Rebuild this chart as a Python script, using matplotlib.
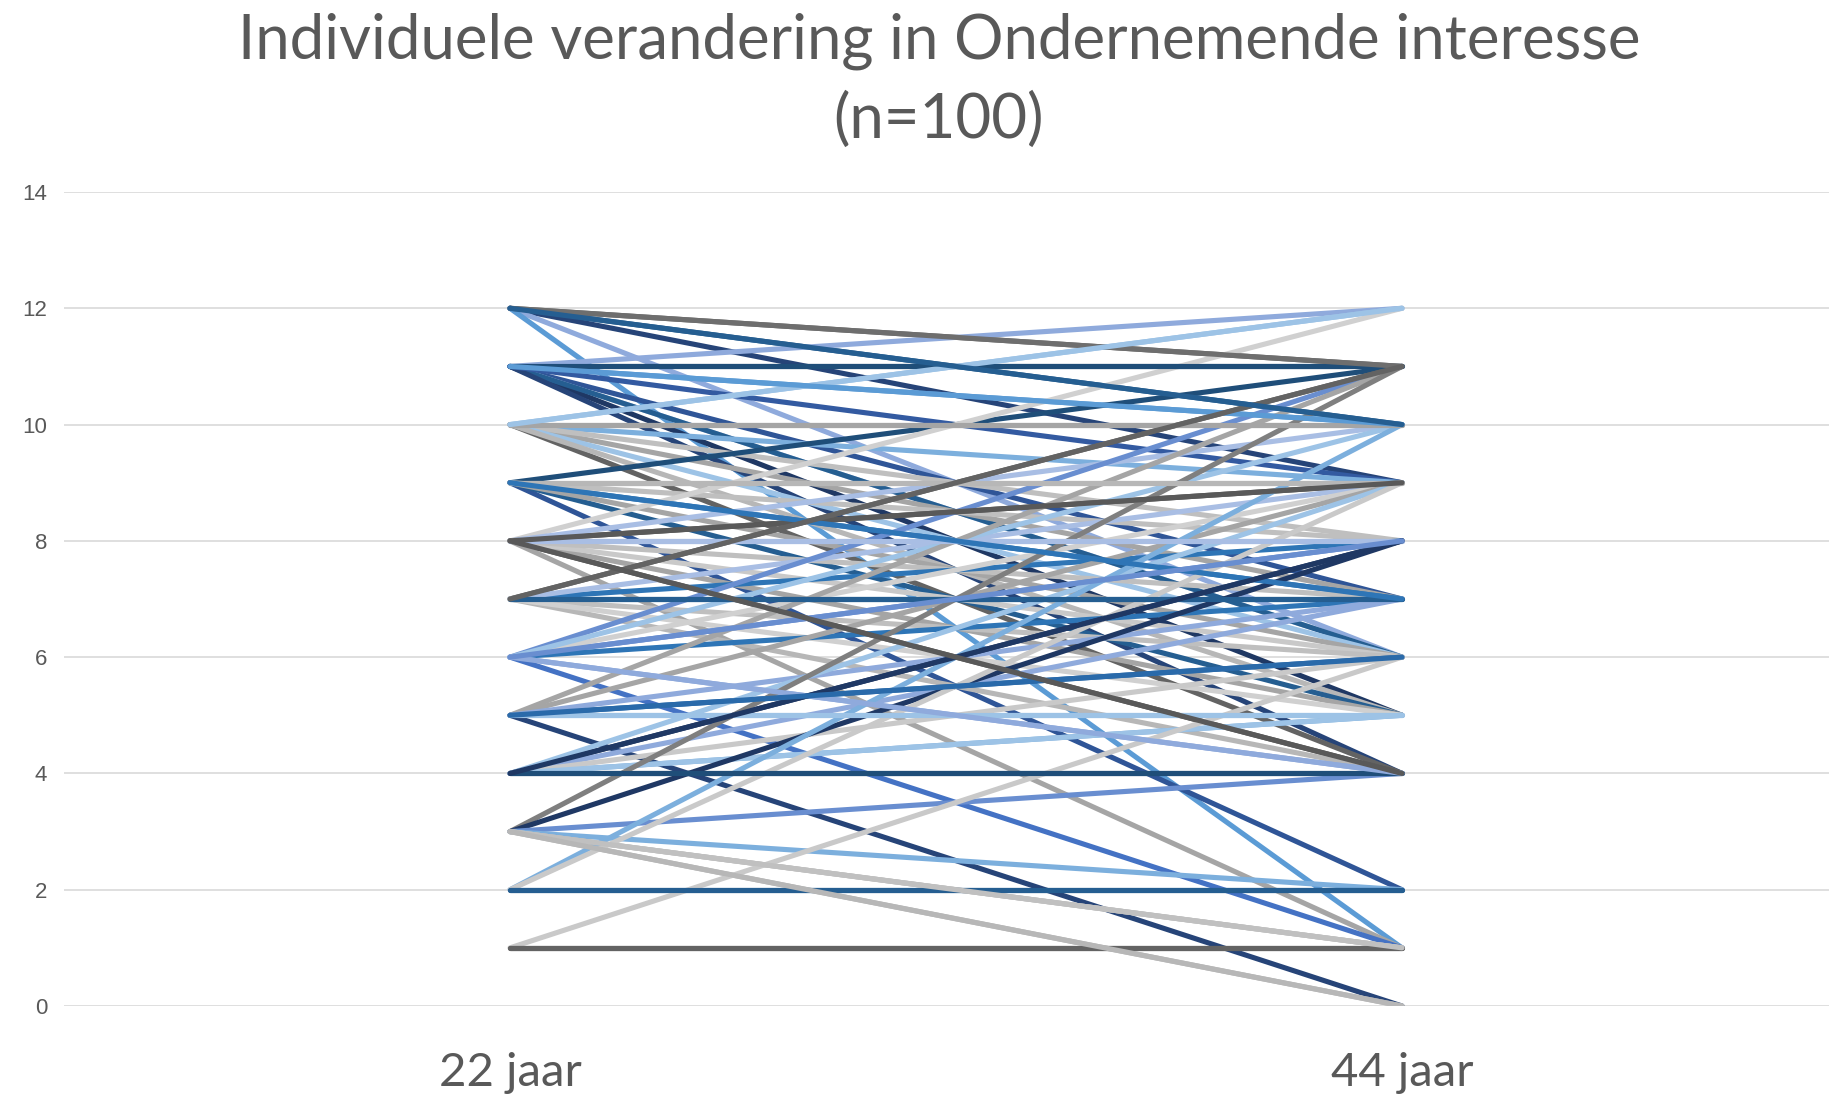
import numpy as np, matplotlib
matplotlib.use("Agg"); import matplotlib.pyplot as plt

# score at 22 and at 44 for each of the 100 persons
start = [12,12,12,12,12, 11,11,11,11,11,11,11,11,11, 10,10,10,10,10,10,10,10,
         9,9,9,9,9,9,9, 8,8,8,8,8,8,8,8,8, 7,7,7,7,7,7,7, 6,6,6,6,6,6,6,
         5,5,5,5,5,5, 4,4,4,4,4,4,4, 3,3,3,3,3,3,3, 2,2,2, 1,1,
         11,10,9,8,4,12,7,5,2,1,8,3,6,10,11,9,4,3,5,7,6,12,8]
end   = [11,10,9,6,1, 11,10,7,6,5,6,12,4,9, 12,10,9,4,7,8,6,5,
         11,9,7,2,8,5,6, 12,9,8,4,5,6,1,10,7, 11,7,8,6,9,4,5, 8,7,4,1,9,11,10,
         9,6,5,0,11,7, 8,4,7,9,5,6,5, 11,8,4,2,1,0,1, 10,9,2, 6,1,
         11,10,9,8,4,11,7,5,2,1,9,1,4,12,10,7,8,0,6,11,8,10,4]
colors = ['#6E6E6E','#255E91','#264478','#8FAADC','#5B9BD5',
          '#1F4E79','#5B9BD5','#2F5597','#A9BEE4','#1F3864','#255E91','#8FAADC','#264478','#335AA1',
          '#9DC3E6','#A5A5A5','#7CAFDD','#636363','#A5A5A5','#BFBFBF','#9DC3E6','#B7B7B7',
          '#1F4E79','#B7B7B7','#2E75B6','#2F5597','#BFBFBF','#255E91','#A5A5A5',
          '#D0D0D0','#595959','#A9BEE4','#595959','#A5A5A5','#C9C9C9','#A5A5A5','#A9BEE4','#BFBFBF',
          '#636363','#255E91','#2E75B6','#BFBFBF','#A9BEE4','#B7B7B7','#D0D0D0',
          '#698ED0','#2E75B6','#8FAADC','#4472C4','#D0D0D0','#698ED0','#9DC3E6',
          '#A5A5A5','#2A6AAA','#9DC3E6','#264478','#A5A5A5','#8FAADC',
          '#1F3864','#1F4E79','#8FAADC','#9DC3E6','#7CAFDD','#C9C9C9','#9DC3E6',
          '#7F7F7F','#1F3864','#698ED0','#7CAFDD','#BFBFBF','#B7B7B7','#C0C0C0',
          '#7CAFDD','#C9C9C9','#255E91', '#C9C9C9','#636363',
          '#1F4E79','#A5A5A5','#B7B7B7','#A9BEE4','#1F4E79','#6E6E6E','#255E91','#9DC3E6','#255E91','#636363',
          '#595959','#C0C0C0','#8FAADC','#9DC3E6','#5B9BD5','#2E75B6','#1F3864','#B7B7B7','#2A6AAA','#636363',
          '#698ED0','#255E91','#595959']
groups = ["22 jaar", "44 jaar"]
yticks = [0,2,4,6,8,10,12,14]

txt = '#595959'
fig = plt.figure(figsize=(18.29, 11), dpi=100)
ax = fig.add_axes([64/1829, 1-1006/1100, 1784/1829, 814/1100])
x = np.arange(len(groups))
for s, e, c in zip(start, end, colors):
    ax.plot(x, [s, e], color=c, lw=3.7, solid_capstyle='round', solid_joinstyle='round')

ax.set_xlim(-0.5, 1.5); ax.set_ylim(0, 14)
ax.set_yticks(yticks)
ax.set_yticklabels([str(v) for v in yticks], fontsize=16, color=txt, family='Liberation Sans')
ax.set_xticks(x)
ax.set_xticklabels(groups, fontsize=34, color=txt, family='Lato')
ax.tick_params(axis='y', length=0, pad=12)
ax.tick_params(axis='x', length=0, pad=33)
ax.grid(axis='y', color='#D9D9D9', lw=1.2); ax.set_axisbelow(True)
for sp in ax.spines.values(): sp.set_visible(False)

fig.text(939/1829, 1-41/1100, "Individuele verandering in Ondernemende interesse", ha='center', va='center',
         fontsize=44.5, color=txt, family='Lato')
fig.text(939/1829, 1-120/1100, "(n=100)", ha='center', va='center', fontsize=44.5, color=txt, family='Lato')
fig.savefig("out.png", dpi=100)
